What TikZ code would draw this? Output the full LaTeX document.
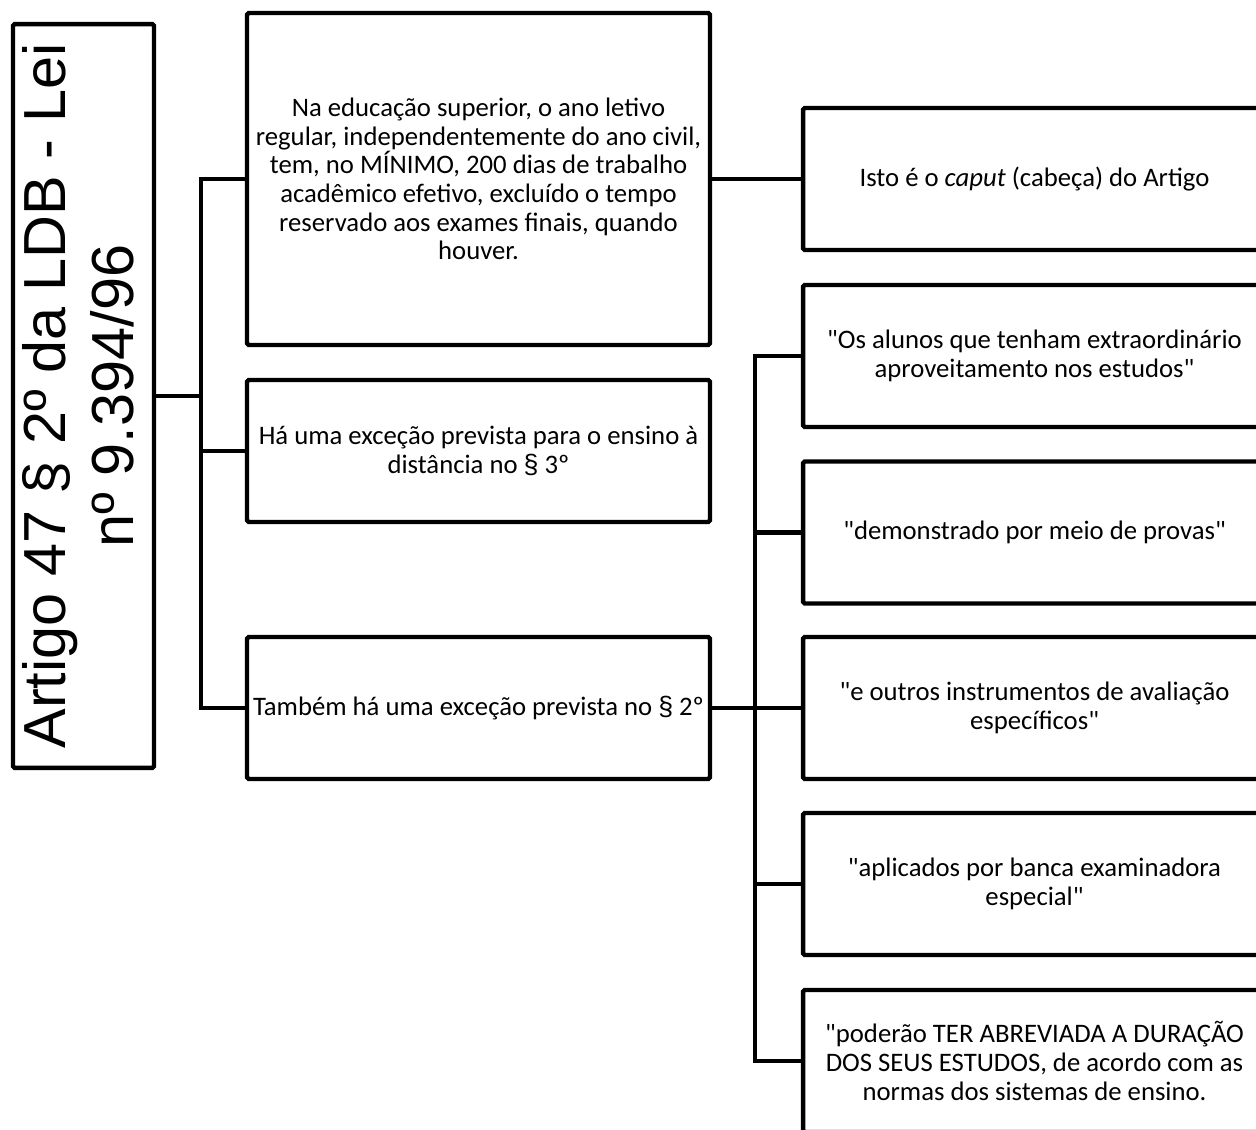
\documentclass[tikz,border=0pt]{standalone}
\usepackage{fontspec}
\setmainfont{Carlito}[Ligatures=TeXOff]
\newfontfamily\leifont{Liberation Sans}
\newcommand{\secsym}{{\leifont §}}

\tikzstyle{caixa} = [draw, line width=2.5pt, rounded corners=1pt, inner sep=0pt, align=center, minimum width=9.26cm, minimum height=2.84cm, font=\fontsize{15.2}{16.3}\selectfont]
\tikzstyle{line} = [draw, line width=2.3pt]

\begin{document}
\begin{tikzpicture}[x=0.02cm,y=-0.02cm]
\useasboundingbox (0,0) rectangle (1256,1129);
\clip (0,0) rectangle (1256,1129);

%titulo
\node[caixa, minimum width=2.82cm, minimum height=14.88cm] (lei) at (83.5,396) {};
\node[rotate=90, align=center, inner sep=0pt, font=\leifont\fontsize{33.8}{38.6}\selectfont] (leitexto) at (78,396) {Artigo 47 § 2º da LDB - Lei\\nº 9.394/96};

%coluna do meio
\node[caixa, minimum height=6.64cm] (anual) at (478.5,179) {Na educação superior, o ano letivo\\regular, independentemente do ano civil,\\tem, no MÍNIMO, 200 dias de trabalho\\acadêmico efetivo, excluído o tempo\\reservado aos exames finais, quando\\houver.};
\node[caixa] (distancia) at (478.5,451) {Há uma exceção prevista para o ensino à\\distância no \secsym{} 3º};
\node[caixa] (tambem) at (478.5,708) {Também há uma exceção prevista no \secsym{} 2º};

%coluna da direita
\node[caixa] (caput) at (1034.5,179) {Isto é o \textit{caput} (cabeça) do Artigo};
\node[caixa] (alunos) at (1034.5,356) {"Os alunos que tenham extraordinário\\aproveitamento nos estudos"};
\node[caixa] (provas) at (1034.5,532.5) {"demonstrado por meio de provas"};
\node[caixa] (outros) at (1034.5,708) {"e outros instrumentos de avaliação\\específicos"};
\node[caixa] (banca) at (1034.5,884) {"aplicados por banca examinadora\\especial"};
\node[caixa] (poderao) at (1034.5,1061) {"poderão TER ABREVIADA A DURAÇÃO\\DOS SEUS ESTUDOS, de acordo com as\\normas dos sistemas de ensino.};

%ligacoes
\coordinate (ramo) at (201,396);
\path [line] (lei.east) -- (ramo);
\path [line] (ramo) |- (anual.west);
\path [line] (ramo) |- (distancia.west);
\path [line] (ramo) |- (tambem.west);
\path [line] (anual.east) -- (caput.west);

\coordinate (ramoB) at (755,708);
\path [line] (tambem.east) -- (ramoB);
\foreach \n in {alunos,provas,outros,banca,poderao}
  \path [line] (ramoB) |- (\n.west);
\end{tikzpicture}
\end{document}
